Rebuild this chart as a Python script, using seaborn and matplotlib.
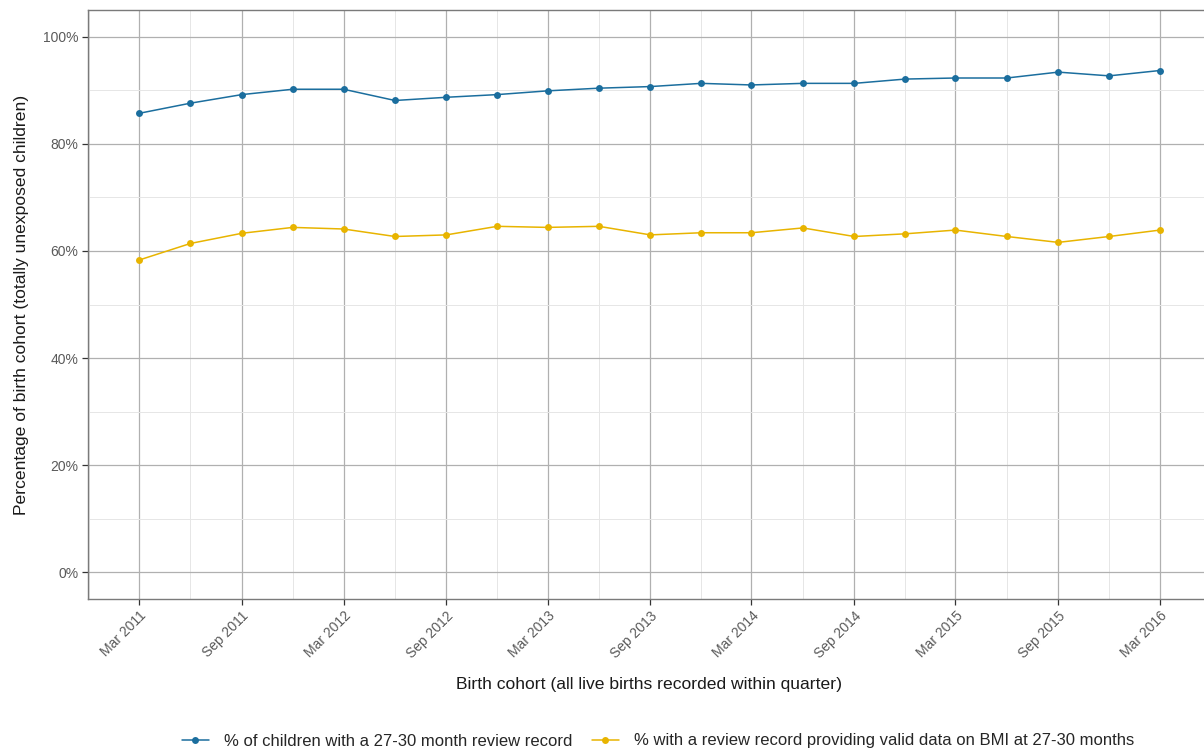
import pandas as pd
import numpy as np
import seaborn as sns
import matplotlib.pyplot as plt
import matplotlib.dates as mdates
from matplotlib.ticker import MultipleLocator, FuncFormatter

# quarterly birth cohorts, Mar 2011 - Mar 2016
cohorts = pd.date_range('2011-03-01', '2016-03-01', freq='3MS')

review_pct = [85.7, 87.6, 89.2, 90.2, 90.2, 88.1, 88.7, 89.2, 89.9, 90.4,
              90.7, 91.3, 91.0, 91.3, 91.3, 92.1, 92.3, 92.3, 93.4, 92.7, 93.7]
bmi_pct = [58.3, 61.4, 63.3, 64.4, 64.1, 62.7, 63.0, 64.6, 64.4, 64.6,
           63.0, 63.4, 63.4, 64.3, 62.7, 63.2, 63.9, 62.7, 61.6, 62.7, 63.9]

series_names = ['% of children with a 27-30 month review record',
                '% with a review record providing valid data on BMI at 27-30 months']
colours = ['#1B6E9E', '#E8B400']

df = pd.concat([
    pd.DataFrame({'cohort': cohorts, 'pct': review_pct, 'series': series_names[0]}),
    pd.DataFrame({'cohort': cohorts, 'pct': bmi_pct, 'series': series_names[1]}),
])

sns.set_theme(style='white')
plt.rcParams['font.family'] = ['Liberation Sans', 'DejaVu Sans']

fig = plt.figure(figsize=(12.04, 7.53), dpi=100)
ax = fig.add_axes([88/1204, 1-599/753, (1211-88)/1204, (599-10)/753])

sns.lineplot(data=df, x='cohort', y='pct', hue='series', palette=colours,
             marker='o', markersize=5, markeredgewidth=0, linewidth=1.1, ax=ax)

# axis ranges like ggplot's 5% expansion
span = cohorts[-1] - cohorts[0]
ax.set_xlim(cohorts[0] - span * 0.05, cohorts[-1] + span * 0.05)
ax.set_ylim(-5, 105)

ax.xaxis.set_major_locator(mdates.MonthLocator(bymonth=[3, 9]))
ax.xaxis.set_minor_locator(mdates.MonthLocator(bymonth=[6, 12]))
ax.xaxis.set_major_formatter(mdates.DateFormatter('%b %Y'))
ax.yaxis.set_major_locator(MultipleLocator(20))
ax.yaxis.set_minor_locator(MultipleLocator(10))
ax.yaxis.set_major_formatter(FuncFormatter(lambda v, p: '%d%%' % v))

ax.grid(which='major', color='#B0B0B0', linewidth=0.9)
ax.grid(which='minor', color='#E6E6E6', linewidth=0.7)
ax.set_axisbelow(True)

for s in ax.spines.values():
    s.set_color('#7A7A7A')
    s.set_linewidth(1.0)

ax.tick_params(axis='both', which='major', length=4, width=0.9, color='#333333',
               labelsize=10, labelcolor='#5A5A5A', direction='out', bottom=True, left=True,
               pad=3)
ax.tick_params(axis='both', which='minor', length=0)
plt.setp(ax.get_xticklabels(), rotation=45, ha='right', rotation_mode='anchor')

ax.set_xlabel('Birth cohort (all live births recorded within quarter)', fontsize=12.6,
              color='#1A1A1A', labelpad=12)
ax.set_ylabel('Percentage of birth cohort (totally unexposed children)', fontsize=12.6,
              color='#1A1A1A', labelpad=10)

handles, labels = ax.get_legend_handles_labels()
ax.legend(handles, labels, loc='center', bbox_to_anchor=(658/1204, 1-741/753),
          bbox_transform=fig.transFigure, ncol=2, frameon=False, fontsize=12,
          handlelength=1.6, handletextpad=0.9, columnspacing=1.2, title=None)

fig.savefig('out.png', dpi=100)
